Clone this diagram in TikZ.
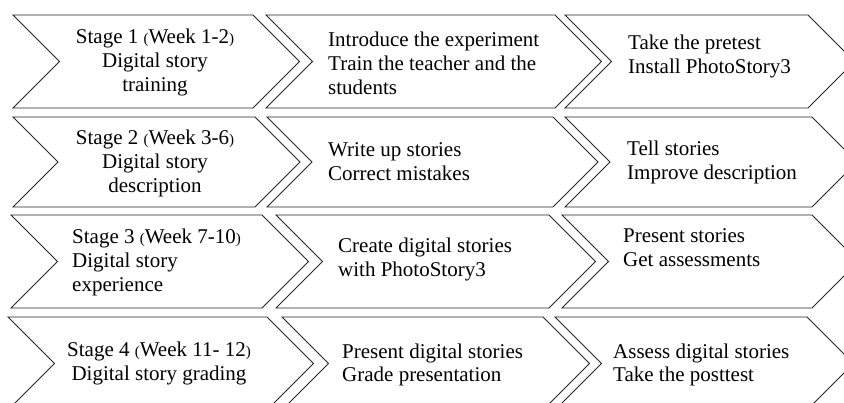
\documentclass[tikz,border=0pt]{standalone}
\usepackage{fontspec}
\setmainfont{Liberation Serif}
\newcommand{\smpar}[1]{{\fontsize{15}{15}\selectfont #1}}
\newcommand{\chevshape}[4]{% L R T B
  \pgfmathsetmacro{\dd}{(#4-#3)/2}
  \draw[chev] (#1,#3) -- (#2,#3) -- (#2+\dd,{(#3+#4)/2}) -- (#2,#4) -- (#1,#4) -- (#1+\dd,{(#3+#4)/2}) -- cycle;}
\begin{document}
\begin{tikzpicture}[x=1pt,y=-1pt,
  chev/.style={draw=black!85, line width=0.8pt, line join=miter},
  txt/.style={font=\fontsize{21}{24}\selectfont, inner sep=0pt, text=black},
  lft/.style={txt, align=left, anchor=base west},
  ctr/.style={txt, align=center, anchor=base}]
\useasboundingbox (0,0) rectangle (844,403);
\clip (0,0) rectangle (844,403);
% Row 1
\chevshape{13}{253}{15}{108}
\chevshape{266}{555}{15}{108}
\chevshape{565}{808}{15}{108}
% Row 2
\chevshape{13}{255}{117}{207}
\chevshape{267}{553}{117}{207}
\chevshape{565}{812}{117}{207}
% Row 3
\chevshape{11}{262}{215}{308}
\chevshape{276}{549}{215}{308}
\chevshape{562}{812}{215}{308}
% Row 4
\chevshape{8}{267}{317}{410}
\chevshape{282}{543}{317}{410}
\chevshape{555}{807}{317}{410}
% texts (anchor = baseline of the last line)
\node[ctr] (s1) at (155,92) {Stage 1 \smpar{(}Week 1-2\smpar{)}\\Digital story\\training};
\node[lft] (a1) at (328,95) {Introduce the experiment\\Train the teacher and the\\students};
\node[lft] (b1) at (628,74) {Take the pretest\\Install PhotoStory3};
\node[ctr] (s2) at (155,193) {Stage 2 \smpar{(}Week 3-6\smpar{)}\\Digital story\\description};
\node[lft] (a2) at (328,181) {Write up stories\\Correct mistakes};
\node[lft] (b2) at (627,180) {Tell stories\\Improve description};
\node[lft] (s3) at (72,292) {Stage 3 \smpar{(}Week 7-10\smpar{)}\\Digital story\\experience};
\node[lft] (a3) at (338,277) {Create digital stories\\with PhotoStory3};
\node[lft] (b3) at (623,267) {Present stories\\Get assessments};
\node[ctr] (s4) at (159,381) {Stage 4 \smpar{(}Week 11- 12\smpar{)}\\Digital story grading};
\node[lft] (a4) at (342,382) {Present digital stories\\Grade presentation};
\node[lft] (b4) at (613,382) {Assess digital stories\\Take the posttest};
\end{tikzpicture}
\end{document}
